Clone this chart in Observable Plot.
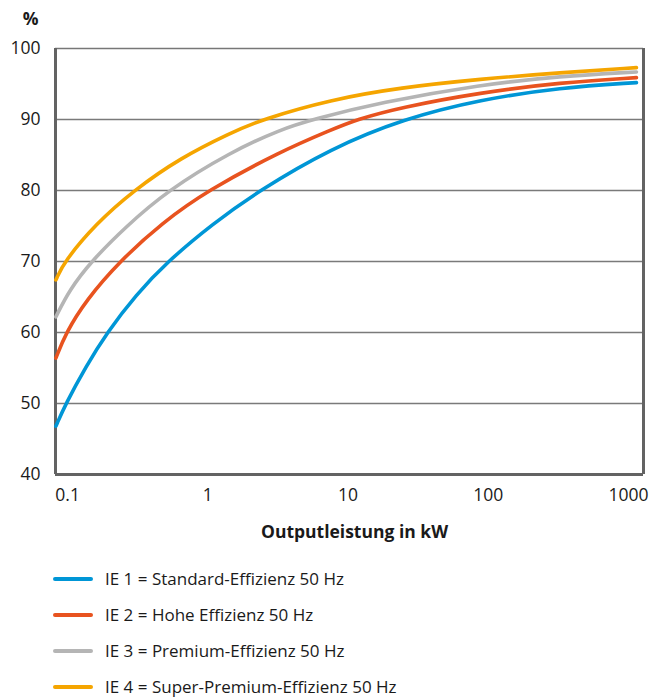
<!DOCTYPE html>
<html>
<head>
<meta charset="utf-8">
<script src="https://cdn.jsdelivr.net/npm/d3@7"></script>
<script src="https://cdn.jsdelivr.net/npm/@observablehq/plot@0.6"></script>
<style>
  html, body { margin: 0; padding: 0; background: #fff; }
  body { font-family: "Open Sans", sans-serif; color: #1a1a1a; }
  #chart svg { display: block; }
  #legend { margin-top: 16px; }
  .row { display: flex; align-items: center; height: 36px; font-size: 17px; line-height: 1.2; }
  .sw { width: 40px; height: 4px; border-radius: 2px; margin-left: 53px; margin-right: 12px; flex: none; }
</style>
</head>
<body>
<div id="chart"></div>
<div id="legend"></div>
<script>
// ---- data ----
const seriesNames = [
  "IE 1 = Standard-Effizienz 50 Hz",
  "IE 2 = Hohe Effizienz 50 Hz",
  "IE 3 = Premium-Effizienz 50 Hz",
  "IE 4 = Super-Premium-Effizienz 50 Hz"
];
const ie1_kW  = [0.0825, 0.0972, 0.135, 0.191, 0.307, 0.516, 1.08, 2.33, 7.5, 24.9, 88, 327, 1140];
const ie1_eff = [46.8, 50, 55.2, 60, 65.3, 70, 75.3, 80, 85.9, 90.1, 92.8, 94.5, 95.2];
const ie2_kW  = [0.0825, 0.0976, 0.135, 0.234, 0.476, 0.996, 3.3, 7.5, 11.5, 23.7, 88, 327, 1140];
const ie2_eff = [56.4, 60, 64.5, 70, 75.5, 80, 85.5, 88.5, 90, 91.7, 93.8, 95.2, 95.9];
const ie3_kW  = [0.0825, 0.103, 0.147, 0.26, 0.516, 1.45, 3.3, 5.58, 17, 88, 327, 1140];
const ie3_eff = [62.2, 66.0, 70, 74.9, 80, 85.4, 88.6, 90, 92.4, 94.9, 96.1, 96.7];
const ie4_kW  = [0.0825, 0.0947, 0.159, 0.2955, 0.639, 1.45, 2.42, 7.5, 23.7, 88, 327, 1140];
const ie4_eff = [67.4, 70, 75.3, 80, 84.6, 88.1, 90, 92.8, 94.5, 95.7, 96.6, 97.3];

const xTicks = [0.1, 1, 10, 100, 1000];
const yTicks = [40, 50, 60, 70, 80, 90, 100];
const gridValues = [50, 60, 70, 80, 90];
const xDomain = [0.082, 1280];
const yDomain = [40, 100];
const yUnit = "%";
const xTitle = "Outputleistung in kW";

// ---- styling ----
const colors = ["#0096d6", "#e8531f", "#b5b5b5", "#f5a500"];

const rows = [];
[[ie1_kW, ie1_eff], [ie2_kW, ie2_eff], [ie3_kW, ie3_eff], [ie4_kW, ie4_eff]].forEach(([ks, es], i) => {
  ks.forEach((k, j) => rows.push({series: seriesNames[i], kW: k, eff: es[j]}));
});

const chart = Plot.plot({
  width: 653,
  height: 545,
  marginLeft: 55,
  marginRight: 10,
  marginTop: 48,
  marginBottom: 71,
  style: { fontFamily: "Open Sans, sans-serif", fontSize: "17.5px", color: "#1a1a1a", background: "#fff" },
  x: { type: "log", domain: xDomain },
  y: { domain: yDomain },
  color: { domain: seriesNames, range: colors },
  marks: [
    Plot.ruleY(gridValues, { stroke: "#7a7a7a", strokeWidth: 1.5 }),
    Plot.ruleY([yDomain[1]], { stroke: "#777", strokeWidth: 1.5 }),
    Plot.ruleY([yDomain[0]], { stroke: "#636363", strokeWidth: 3 }),
    Plot.ruleX(xDomain, { stroke: "#636363", strokeWidth: 3 }),
    Plot.line(rows, { x: "kW", y: "eff", z: "series", stroke: "series", strokeWidth: 3.6, curve: "basis", strokeLinecap: "round" }),
    Plot.axisX(xTicks, { tickSize: 0, tickPadding: 14, tickFormat: d => String(d), label: null }),
    Plot.axisY(yTicks, { tickSize: 0, tickPadding: 15, label: null }),
    Plot.text([yUnit], { frameAnchor: "top-left", textAnchor: "middle", lineAnchor: "middle", dx: -25, dy: -29, fontWeight: "bold" }),
    Plot.text([xTitle], { frameAnchor: "bottom", textAnchor: "middle", lineAnchor: "middle", dx: 5, dy: 58, fontWeight: "bold" })
  ]
});
document.getElementById("chart").appendChild(chart);

const legend = document.getElementById("legend");
seriesNames.forEach((name, i) => {
  const row = document.createElement("div");
  row.className = "row";
  const sw = document.createElement("div");
  sw.className = "sw";
  sw.style.background = colors[i];
  const t = document.createElement("span");
  t.textContent = name;
  row.appendChild(sw);
  row.appendChild(t);
  legend.appendChild(row);
});
</script>
</body>
</html>
